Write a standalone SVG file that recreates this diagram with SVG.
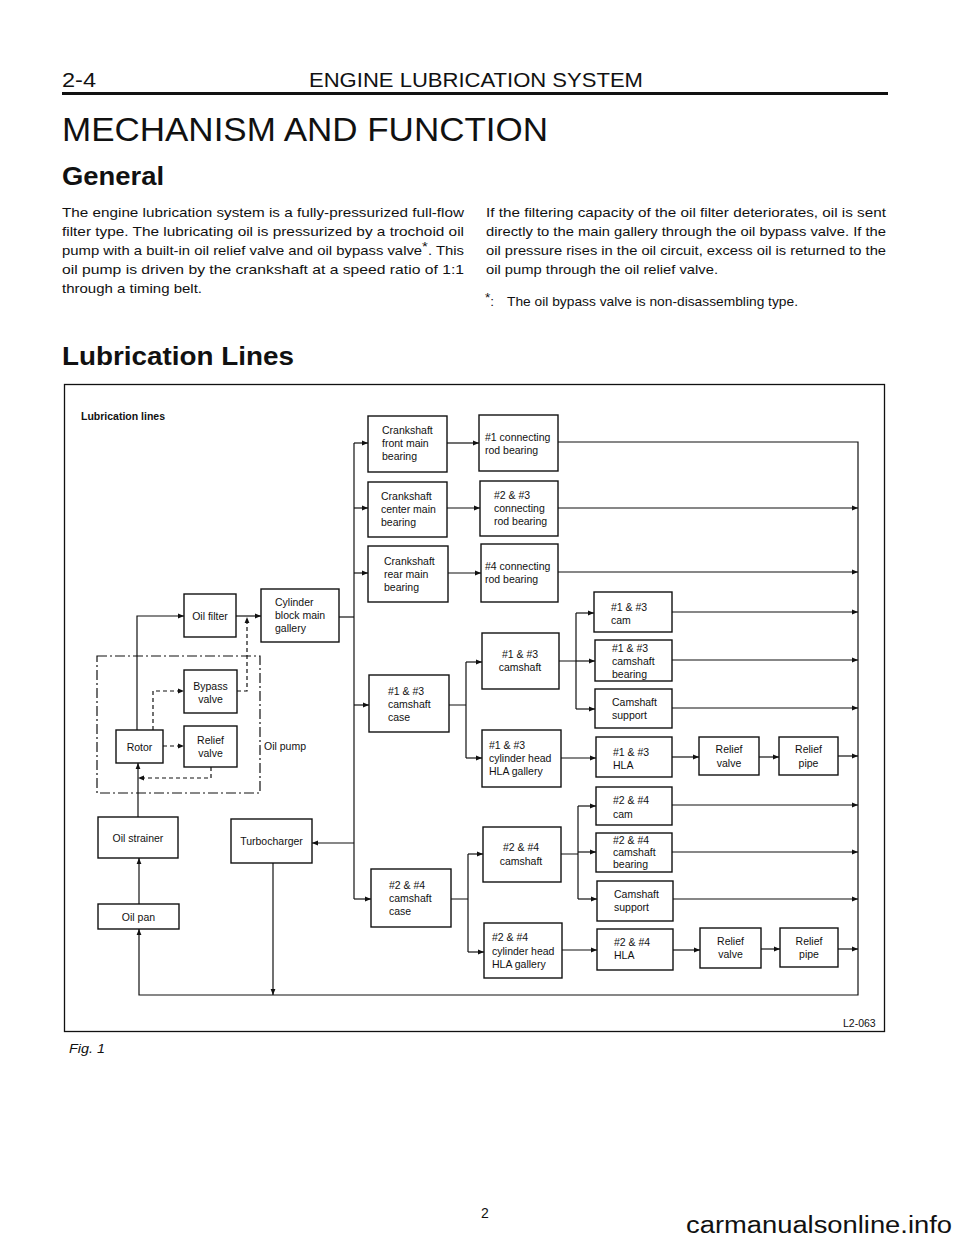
<svg xmlns="http://www.w3.org/2000/svg" width="960" height="1241" viewBox="0 0 960 1241">
<defs>
<style>
.box{fill:#fff;stroke:#111;stroke-width:1.4}
.t{font-family:"Liberation Sans",Arial,sans-serif;font-size:10.5px;fill:#111}
.c{text-anchor:middle}
.ln{fill:none;stroke:#111;stroke-width:1.2}
.ar{marker-end:url(#ah)}
.ds{stroke-dasharray:4,3}
.body{font-family:"Liberation Sans",Arial,sans-serif;font-size:13.5px;fill:#111}
.h{font-family:"Liberation Sans",Arial,sans-serif;fill:#111}
</style>
<marker id="ah" viewBox="0 0 10 10" refX="10" refY="5" markerWidth="8" markerHeight="6" markerUnits="userSpaceOnUse" orient="auto"><path d="M0,1 L10,5 L0,9 z" fill="#111"/></marker>
</defs>
<rect width="960" height="1241" fill="#fff"/>

<g id="page-header">
<text class="h" x="62" y="87" font-size="21" textLength="34" lengthAdjust="spacingAndGlyphs">2-4</text>
<text class="h" x="309" y="87" font-size="21" textLength="334" lengthAdjust="spacingAndGlyphs">ENGINE LUBRICATION SYSTEM</text>
<rect x="62" y="92" width="826" height="3" fill="#111"/>
<text class="h" x="62" y="141" font-size="34" textLength="486" lengthAdjust="spacingAndGlyphs">MECHANISM AND FUNCTION</text>
<text class="h" x="62" y="185" font-size="26" font-weight="bold" textLength="102" lengthAdjust="spacingAndGlyphs">General</text>
<text class="body" x="62" y="217" textLength="402" lengthAdjust="spacingAndGlyphs">The engine lubrication system is a fully-pressurized full-flow</text>
<text class="body" x="62" y="236" textLength="402" lengthAdjust="spacingAndGlyphs">filter type. The lubricating oil is pressurized by a trochoid oil</text>
<text class="body" x="62" y="255" textLength="402" lengthAdjust="spacingAndGlyphs">pump with a built-in oil relief valve and oil bypass valve<tspan dy="-4">*</tspan><tspan dy="4">. This</tspan></text>
<text class="body" x="62" y="274" textLength="402" lengthAdjust="spacingAndGlyphs">oil pump is driven by the crankshaft at a speed ratio of 1:1</text>
<text class="body" x="62" y="293" textLength="140" lengthAdjust="spacingAndGlyphs">through a timing belt.</text>
<text class="body" x="486" y="217" textLength="400" lengthAdjust="spacingAndGlyphs">If the filtering capacity of the oil filter deteriorates, oil is sent</text>
<text class="body" x="486" y="236" textLength="400" lengthAdjust="spacingAndGlyphs">directly to the main gallery through the oil bypass valve. If the</text>
<text class="body" x="486" y="255" textLength="400" lengthAdjust="spacingAndGlyphs">oil pressure rises in the oil circuit, excess oil is returned to the</text>
<text class="body" x="486" y="274" textLength="232" lengthAdjust="spacingAndGlyphs">oil pump through the oil relief valve.</text>
<text class="body" x="485" y="306"><tspan dy="-4">*</tspan><tspan dy="4">:  </tspan><tspan x="507" textLength="291" lengthAdjust="spacingAndGlyphs">The oil bypass valve is non-disassembling type.</tspan></text>
<text class="h" x="62" y="365" font-size="26" font-weight="bold" textLength="232" lengthAdjust="spacingAndGlyphs">Lubrication Lines</text>
</g>

<g id="frame">
<rect x="64.5" y="384.5" width="820" height="647" fill="none" stroke="#111" stroke-width="1.3"/>
<text class="t" x="81" y="420" font-size="13" font-weight="bold">Lubrication lines</text>
<text class="t" x="843" y="1027" font-size="11">L2-063</text>
</g>

<g id="connectors">
<path class="ln ar" d="M139,904 V858"/>
<path class="ln ar" d="M138,817 V763"/>
<path class="ln ar" d="M137,730 V616 H184"/>
<path class="ln ar" d="M236,616 H261"/>
<path class="ln ar ds" d="M153,730 V691 H184"/>
<path class="ln ar ds" d="M237,691 H247 V617"/>
<path class="ln ar ds" d="M163,746 H184"/>
<path class="ln ar ds" d="M211,767 V778 H138"/>
<path class="ln" d="M339,617 H354"/>
<path class="ln" d="M354,443 V899"/>
<path class="ln ar" d="M354,443 H368"/>
<path class="ln ar" d="M354,508 H368"/>
<path class="ln ar" d="M354,573 H368"/>
<path class="ln ar" d="M354,705 H369"/>
<path class="ln ar" d="M354,899 H371"/>
<path class="ln ar" d="M354,843 H312"/>
<path class="ln ar" d="M447,443 H479"/>
<path class="ln ar" d="M447,508 H480"/>
<path class="ln ar" d="M448,573 H481"/>
<path class="ln ar" d="M558,442 H858 V995 H139 V929"/>
<path class="ln ar" d="M558,508 H858"/>
<path class="ln ar" d="M558,572 H858"/>
<path class="ln ar" d="M273,863 V995"/>
<path class="ln" d="M449,705 H466 M466,662 V758"/>
<path class="ln ar" d="M466,662 H482"/>
<path class="ln ar" d="M466,758 H482"/>
<path class="ln" d="M559,661 H576 M576,613 V709"/>
<path class="ln ar" d="M576,613 H594"/>
<path class="ln ar" d="M576,661 H595"/>
<path class="ln ar" d="M576,709 H595"/>
<path class="ln ar" d="M561,758 H596"/>
<path class="ln ar" d="M672,612 H858"/>
<path class="ln ar" d="M672,660 H858"/>
<path class="ln ar" d="M672,708 H858"/>
<path class="ln ar" d="M672,757 H699"/>
<path class="ln ar" d="M759,757 H779"/>
<path class="ln ar" d="M838,756 H858"/>
<path class="ln" d="M451,899 H468 M468,854 V952"/>
<path class="ln ar" d="M468,854 H483"/>
<path class="ln ar" d="M468,952 H484"/>
<path class="ln" d="M561,854 H578 M578,806 V899"/>
<path class="ln ar" d="M578,806 H596"/>
<path class="ln ar" d="M578,852 H596"/>
<path class="ln ar" d="M578,899 H597"/>
<path class="ln ar" d="M562,950 H597"/>
<path class="ln ar" d="M672,805 H858"/>
<path class="ln ar" d="M672,852 H858"/>
<path class="ln ar" d="M673,899 H858"/>
<path class="ln ar" d="M673,950 H700"/>
<path class="ln ar" d="M761,949 H780"/>
<path class="ln ar" d="M838,949 H858"/>
</g>

<g id="oil-pump">
<rect x="97" y="656" width="163" height="137" fill="none" stroke="#111" stroke-width="1.2" stroke-dasharray="10,3,2,3"/>
<text class="t" x="264" y="750">Oil pump</text>
</g>
<g id="oil-filter"><rect class="box" x="184" y="594" width="52" height="43"/><text class="t c" x="210" y="620">Oil filter</text></g>
<g id="cylinder-block"><rect class="box" x="261" y="589" width="78" height="53"/><text class="t" x="275" y="606">Cylinder</text><text class="t" x="275" y="619">block main</text><text class="t" x="275" y="632">gallery</text></g>
<g id="bypass-valve"><rect class="box" x="184" y="670" width="53" height="43"/><text class="t c" x="210.5" y="690">Bypass</text><text class="t c" x="210.5" y="703">valve</text></g>
<g id="pump-relief-valve"><rect class="box" x="184" y="726" width="53" height="41"/><text class="t c" x="210.5" y="744">Relief</text><text class="t c" x="210.5" y="757">valve</text></g>
<g id="rotor"><rect class="box" x="116" y="730" width="47" height="33"/><text class="t c" x="139.5" y="751">Rotor</text></g>
<g id="oil-strainer"><rect class="box" x="98" y="817" width="80" height="41"/><text class="t c" x="138" y="842">Oil strainer</text></g>
<g id="oil-pan"><rect class="box" x="98" y="904" width="81" height="25"/><text class="t c" x="138.5" y="921">Oil pan</text></g>
<g id="turbocharger"><rect class="box" x="231" y="819" width="81" height="44"/><text class="t c" x="271.5" y="845">Turbocharger</text></g>

<g id="crank-front"><rect class="box" x="368" y="416" width="79" height="56"/><text class="t" x="382" y="434">Crankshaft</text><text class="t" x="382" y="447">front main</text><text class="t" x="382" y="460">bearing</text></g>
<g id="conrod-1"><rect class="box" x="479" y="415" width="79" height="56"/><text class="t" x="485" y="441">#1 connecting</text><text class="t" x="485" y="454">rod bearing</text></g>
<g id="crank-center"><rect class="box" x="368" y="482" width="79" height="55"/><text class="t" x="381" y="500">Crankshaft</text><text class="t" x="381" y="513">center main</text><text class="t" x="381" y="526">bearing</text></g>
<g id="conrod-23"><rect class="box" x="480" y="481" width="78" height="55"/><text class="t" x="494" y="499">#2 &amp; #3</text><text class="t" x="494" y="512">connecting</text><text class="t" x="494" y="525">rod bearing</text></g>
<g id="crank-rear"><rect class="box" x="368" y="546" width="80" height="56"/><text class="t" x="384" y="565">Crankshaft</text><text class="t" x="384" y="578">rear main</text><text class="t" x="384" y="591">bearing</text></g>
<g id="conrod-4"><rect class="box" x="481" y="544" width="77" height="58"/><text class="t" x="485" y="570">#4 connecting</text><text class="t" x="485" y="583">rod bearing</text></g>

<g id="camcase-13"><rect class="box" x="369" y="675" width="80" height="57"/><text class="t" x="388" y="695">#1 &amp; #3</text><text class="t" x="388" y="708">camshaft</text><text class="t" x="388" y="721">case</text></g>
<g id="camshaft-13"><rect class="box" x="482" y="633" width="77" height="56"/><text class="t c" x="520" y="658">#1 &amp; #3</text><text class="t c" x="520" y="671">camshaft</text></g>
<g id="head-13"><rect class="box" x="482" y="730" width="79" height="57"/><text class="t" x="489" y="749">#1 &amp; #3</text><text class="t" x="489" y="762">cylinder head</text><text class="t" x="489" y="775">HLA gallery</text></g>
<g id="cam-13"><rect class="box" x="594" y="592" width="78" height="40"/><text class="t" x="611" y="611">#1 &amp; #3</text><text class="t" x="611" y="624">cam</text></g>
<g id="cambearing-13"><rect class="box" x="595" y="640" width="77" height="41"/><text class="t" x="612" y="652">#1 &amp; #3</text><text class="t" x="612" y="665">camshaft</text><text class="t" x="612" y="678">bearing</text></g>
<g id="support-13"><rect class="box" x="595" y="689" width="77" height="39"/><text class="t" x="612" y="706">Camshaft</text><text class="t" x="612" y="719">support</text></g>
<g id="hla-13"><rect class="box" x="596" y="737" width="76" height="40"/><text class="t" x="613" y="756">#1 &amp; #3</text><text class="t" x="613" y="769">HLA</text></g>
<g id="relief-valve-13"><rect class="box" x="699" y="737" width="60" height="38"/><text class="t c" x="729" y="753">Relief</text><text class="t c" x="729" y="767">valve</text></g>
<g id="relief-pipe-13"><rect class="box" x="779" y="737" width="59" height="38"/><text class="t c" x="808.5" y="753">Relief</text><text class="t c" x="808.5" y="767">pipe</text></g>

<g id="camcase-24"><rect class="box" x="371" y="869" width="80" height="58"/><text class="t" x="389" y="889">#2 &amp; #4</text><text class="t" x="389" y="902">camshaft</text><text class="t" x="389" y="915">case</text></g>
<g id="camshaft-24"><rect class="box" x="483" y="827" width="78" height="55"/><text class="t c" x="521" y="851">#2 &amp; #4</text><text class="t c" x="521" y="865">camshaft</text></g>
<g id="head-24"><rect class="box" x="484" y="923" width="78" height="55"/><text class="t" x="492" y="941">#2 &amp; #4</text><text class="t" x="492" y="955">cylinder head</text><text class="t" x="492" y="968">HLA gallery</text></g>
<g id="cam-24"><rect class="box" x="596" y="787" width="76" height="38"/><text class="t" x="613" y="804">#2 &amp; #4</text><text class="t" x="613" y="818">cam</text></g>
<g id="cambearing-24"><rect class="box" x="596" y="833" width="76" height="39"/><text class="t" x="613" y="844">#2 &amp; #4</text><text class="t" x="613" y="856">camshaft</text><text class="t" x="613" y="868">bearing</text></g>
<g id="support-24"><rect class="box" x="597" y="881" width="76" height="40"/><text class="t" x="614" y="898">Camshaft</text><text class="t" x="614" y="911">support</text></g>
<g id="hla-24"><rect class="box" x="597" y="929" width="76" height="41"/><text class="t" x="614" y="946">#2 &amp; #4</text><text class="t" x="614" y="959">HLA</text></g>
<g id="relief-valve-24"><rect class="box" x="700" y="928" width="61" height="40"/><text class="t c" x="730.5" y="945">Relief</text><text class="t c" x="730.5" y="958">valve</text></g>
<g id="relief-pipe-24"><rect class="box" x="780" y="928" width="58" height="39"/><text class="t c" x="809" y="945">Relief</text><text class="t c" x="809" y="958">pipe</text></g>

<g id="page-footer">
<text class="h" x="69" y="1053" font-size="13" font-style="italic" textLength="36" lengthAdjust="spacingAndGlyphs">Fig. 1</text>
<text class="h" x="481" y="1218" font-size="14">2</text>
<text class="h" x="686" y="1233" font-size="23" fill="#bbb" textLength="266" lengthAdjust="spacingAndGlyphs">carmanualsonline.info</text>
</g>
</svg>
